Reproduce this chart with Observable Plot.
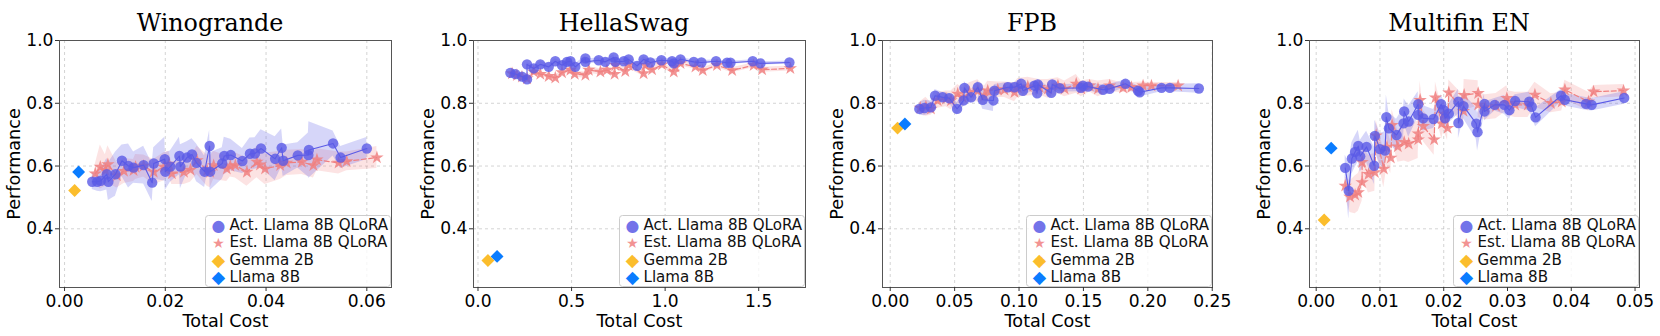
<!DOCTYPE html>
<html><head><meta charset="utf-8">
<script src="https://cdn.jsdelivr.net/npm/d3@7"></script>
<script src="https://cdn.jsdelivr.net/npm/@observablehq/plot@0.6"></script>
<style>
html,body{margin:0;padding:0;background:#fff;}
#fig{position:relative;width:1660px;height:336px;overflow:hidden;font-family:"DejaVu Sans",sans-serif;}
.ttl{position:absolute;width:300px;text-align:center;font-family:"DejaVu Serif",serif;color:#000;white-space:nowrap;z-index:2;}
</style>
</head><body><div id="fig"></div>
<script>
// ---------- data ----------
const titles = ["Winogrande", "HellaSwag", "FPB", "Multifin EN"];
const legendLabels = ["Act. Llama 8B QLoRA", "Est. Llama 8B QLoRA", "Gemma 2B", "Llama 8B"];
const yTicks = [0.4, 0.6, 0.8, 1.0];

// Winogrande
const winoActX = [0.0055,0.0065,0.0072,0.0084,0.0087,0.0101,0.0114,0.0127,0.0137,0.0157,0.0174,0.0177,0.0199,0.0200,0.0210,0.0228,0.0230,0.0243,0.0253,0.0262,0.0278,0.0288,0.0289,0.0313,0.0317,0.0330,0.0353,0.0368,0.0378,0.0390,0.0418,0.0431,0.0434,0.0463,0.0484,0.0485,0.0533,0.0548,0.0600];
const winoActY = [0.550,0.550,0.553,0.574,0.550,0.574,0.617,0.600,0.595,0.603,0.547,0.608,0.622,0.582,0.598,0.632,0.598,0.627,0.637,0.610,0.582,0.664,0.582,0.608,0.632,0.635,0.616,0.639,0.640,0.656,0.623,0.658,0.617,0.634,0.635,0.651,0.672,0.627,0.656];
const winoActErr = [0.025,0.03,0.035,0.05,0.06,0.07,0.05,0.07,0.05,0.06,0.06,0.05,0.07,0.06,0.05,0.06,0.07,0.05,0.05,0.06,0.05,0.05,0.06,0.05,0.06,0.05,0.04,0.05,0.05,0.06,0.07,0.06,0.05,0.04,0.07,0.09,0.04,0.035,0.035];
const winoEstX = [0.0061,0.0071,0.0081,0.0086,0.0104,0.0118,0.0137,0.0141,0.0157,0.0177,0.0197,0.0207,0.0213,0.0237,0.0250,0.0263,0.0283,0.0289,0.0296,0.0322,0.0329,0.0339,0.0362,0.0382,0.0388,0.0398,0.0428,0.0441,0.0471,0.0494,0.0501,0.0544,0.0560,0.0620];
const winoEstY = [0.576,0.597,0.586,0.605,0.570,0.584,0.586,0.597,0.600,0.581,0.597,0.607,0.576,0.581,0.588,0.618,0.586,0.581,0.602,0.591,0.600,0.602,0.581,0.613,0.604,0.591,0.602,0.610,0.613,0.602,0.620,0.610,0.615,0.627];
const winoEstErr = [0.03,0.07,0.05,0.06,0.04,0.04,0.035,0.04,0.035,0.04,0.045,0.04,0.035,0.04,0.04,0.045,0.05,0.05,0.045,0.04,0.035,0.04,0.045,0.05,0.05,0.05,0.045,0.04,0.04,0.04,0.035,0.035,0.03,0.035];
const winoGemma = [0.0020, 0.522];
const winoLlama = [0.0028, 0.581];

// HellaSwag
const hellaActX = [0.173,0.200,0.235,0.262,0.262,0.298,0.333,0.378,0.413,0.449,0.476,0.494,0.520,0.574,0.574,0.645,0.680,0.725,0.734,0.779,0.805,0.850,0.885,0.921,0.980,1.037,1.046,1.082,1.153,1.194,1.272,1.331,1.349,1.468,1.509,1.664];
const hellaActY = [0.897,0.893,0.885,0.876,0.924,0.911,0.924,0.916,0.934,0.921,0.932,0.934,0.916,0.943,0.932,0.937,0.932,0.946,0.932,0.934,0.940,0.919,0.940,0.930,0.937,0.934,0.927,0.940,0.932,0.930,0.934,0.929,0.929,0.934,0.927,0.930];
const hellaActErr = [0.006,0.006,0.008,0.008,0.006,0.008,0.010,0.010,0.008,0.010,0.008,0.008,0.010,0.008,0.008,0.008,0.008,0.008,0.008,0.008,0.008,0.010,0.008,0.008,0.008,0.008,0.008,0.006,0.006,0.006,0.005,0.005,0.005,0.005,0.005,0.005];
const hellaEstX = [0.182,0.208,0.235,0.262,0.298,0.333,0.378,0.413,0.449,0.494,0.517,0.574,0.592,0.654,0.689,0.730,0.734,0.787,0.805,0.885,0.894,0.930,0.983,1.046,1.055,1.082,1.162,1.201,1.277,1.358,1.473,1.518,1.669];
const hellaEstY = [0.895,0.889,0.884,0.879,0.900,0.893,0.886,0.881,0.898,0.906,0.893,0.890,0.906,0.900,0.906,0.893,0.921,0.902,0.921,0.895,0.921,0.907,0.923,0.900,0.916,0.927,0.916,0.905,0.921,0.905,0.921,0.907,0.911];
const hellaEstErr = [0.006,0.006,0.006,0.006,0.008,0.008,0.008,0.008,0.008,0.010,0.010,0.010,0.010,0.010,0.010,0.010,0.010,0.010,0.010,0.010,0.010,0.010,0.008,0.008,0.008,0.008,0.008,0.008,0.008,0.008,0.008,0.008,0.008];
const hellaGemma = [0.053, 0.299];
const hellaLlama = [0.102, 0.312];

// FPB
const fpbActX = [0.0226,0.0265,0.0316,0.0348,0.0407,0.0459,0.0519,0.0570,0.0576,0.0628,0.0680,0.0718,0.0801,0.0809,0.0913,0.0965,0.1017,0.1030,0.1120,0.1141,0.1146,0.1250,0.1258,0.1315,0.1480,0.1496,0.1535,0.1652,0.1704,0.1826,0.1924,0.1937,0.2106,0.2171,0.2396];
const fpbActY = [0.782,0.785,0.787,0.824,0.819,0.816,0.782,0.809,0.849,0.819,0.851,0.811,0.809,0.840,0.851,0.851,0.862,0.840,0.856,0.832,0.860,0.833,0.860,0.848,0.849,0.856,0.853,0.843,0.846,0.862,0.840,0.835,0.849,0.849,0.847];
const fpbActErr = [0.02,0.025,0.02,0.02,0.015,0.015,0.02,0.02,0.02,0.02,0.02,0.03,0.035,0.02,0.015,0.015,0.015,0.015,0.015,0.02,0.015,0.015,0.015,0.012,0.012,0.012,0.012,0.015,0.015,0.012,0.015,0.015,0.012,0.012,0.015];
const fpbEstX = [0.0233,0.0277,0.0316,0.0368,0.0433,0.0472,0.0524,0.0563,0.0615,0.0680,0.0731,0.0757,0.0835,0.0887,0.0965,0.0991,0.1068,0.1159,0.1224,0.1302,0.1354,0.1444,0.1483,0.1548,0.1613,0.1704,0.1808,0.1872,0.1963,0.2028,0.2235];
const fpbEstY = [0.785,0.789,0.782,0.809,0.814,0.809,0.830,0.819,0.835,0.840,0.824,0.840,0.843,0.843,0.835,0.849,0.853,0.851,0.846,0.856,0.846,0.862,0.846,0.856,0.846,0.856,0.849,0.851,0.856,0.856,0.856];
const fpbEstErr = [0.02,0.03,0.02,0.025,0.025,0.03,0.03,0.03,0.03,0.035,0.03,0.03,0.025,0.025,0.03,0.03,0.03,0.025,0.03,0.025,0.025,0.03,0.025,0.02,0.025,0.02,0.015,0.015,0.012,0.01,0.01];
const fpbGemma = [0.0057, 0.721];
const fpbLlama = [0.0114, 0.734];

// Multifin EN
const mfActX = [0.00455,0.0051,0.0056,0.0061,0.0066,0.0069,0.0079,0.0091,0.0092,0.0100,0.0108,0.0110,0.0114,0.0126,0.0137,0.0138,0.0145,0.0160,0.0160,0.0168,0.0184,0.0196,0.0200,0.0202,0.0208,0.0223,0.0223,0.0231,0.0251,0.0253,0.0264,0.0264,0.0280,0.0295,0.0303,0.0312,0.0334,0.0338,0.0344,0.0384,0.0390,0.0423,0.0432,0.0483];
const mfActY = [0.594,0.521,0.624,0.645,0.664,0.631,0.661,0.601,0.696,0.654,0.649,0.756,0.720,0.699,0.736,0.774,0.742,0.797,0.763,0.752,0.750,0.797,0.778,0.752,0.767,0.805,0.737,0.791,0.735,0.708,0.798,0.774,0.795,0.795,0.778,0.807,0.805,0.789,0.755,0.824,0.811,0.798,0.795,0.817];
const mfActErr = [0.04,0.09,0.05,0.05,0.05,0.05,0.05,0.06,0.05,0.05,0.06,0.07,0.05,0.05,0.05,0.04,0.05,0.04,0.04,0.04,0.03,0.03,0.03,0.03,0.03,0.04,0.05,0.04,0.05,0.06,0.03,0.03,0.02,0.03,0.03,0.02,0.03,0.03,0.03,0.02,0.02,0.02,0.02,0.02];
const mfEstX = [0.00455,0.0053,0.0061,0.0066,0.0072,0.0072,0.0082,0.0092,0.0094,0.0106,0.0111,0.0117,0.0119,0.0128,0.0138,0.0145,0.0160,0.0160,0.0163,0.0168,0.0185,0.0187,0.0197,0.0200,0.0206,0.0208,0.0231,0.0232,0.0254,0.0254,0.0265,0.0282,0.0299,0.0301,0.0312,0.0332,0.0343,0.0368,0.0385,0.0390,0.0427,0.0435,0.0482];
const mfEstY = [0.537,0.502,0.508,0.516,0.548,0.612,0.574,0.580,0.697,0.591,0.661,0.626,0.730,0.662,0.676,0.671,0.684,0.703,0.810,0.727,0.684,0.818,0.735,0.765,0.721,0.834,0.775,0.826,0.832,0.795,0.787,0.791,0.816,0.800,0.795,0.795,0.827,0.800,0.805,0.843,0.805,0.837,0.840];
const mfEstErr = [0.03,0.05,0.06,0.06,0.06,0.05,0.06,0.06,0.05,0.06,0.06,0.05,0.05,0.05,0.06,0.06,0.06,0.06,0.06,0.05,0.05,0.05,0.05,0.05,0.04,0.04,0.05,0.05,0.04,0.04,0.04,0.04,0.04,0.04,0.04,0.04,0.04,0.03,0.03,0.03,0.03,0.02,0.02];
const mfGemma = [0.00125, 0.428];
const mfLlama = [0.00235, 0.657];

// x-axis ticks per panel
const winoTicks = [0, 0.02, 0.04, 0.06];
const hellaTicks = [0, 0.5, 1.0, 1.5];
const fpbTicks = [0, 0.05, 0.10, 0.15, 0.20, 0.25];
const mfTicks = [0, 0.01, 0.02, 0.03, 0.04, 0.05];

// ---------- styling / layout ----------
const ACT = "#5a5ae6", EST = "#f08080", GEMMA = "#fbbd2c", LLAMA = "#0a7cff";
const W = 415, H = 336, mT = 40, mB = 49;
const SANS = '"DejaVu Sans", sans-serif', SERIF = '"DejaVu Serif", serif';

// font sizes fitted to the widths of the reference texts
const ctx = document.createElement("canvas").getContext("2d");
function fit(text, family, target) {
  ctx.font = "100px " + family;
  return Math.round(1000 * target / ctx.measureText(text).width) / 10;
}
const tickFS = fit("0.00", SANS, 38);
const labelFS = fit("Total Cost", SANS, 86);
const legendFS = fit("Act. Llama 8B QLoRA", SANS, 159);
const titleFS = fit("Winogrande", SERIF, 147);

const panels = [
  {left: 0,    mL: 59, mR: 24, dom: [-0.001, 0.0649],  ticks: winoTicks,  fmt: ".2f", actX: winoActX, actY: winoActY, actE: winoActErr, estX: winoEstX, estY: winoEstY, estE: winoEstErr, gemma: winoGemma, llama: winoLlama},
  {left: 415,  mL: 58, mR: 25, dom: [-0.024, 1.75],    ticks: hellaTicks, fmt: ".1f", actX: hellaActX, actY: hellaActY, actE: hellaActErr, estX: hellaEstX, estY: hellaEstY, estE: hellaEstErr, gemma: hellaGemma, llama: hellaLlama},
  {left: 830,  mL: 52, mR: 33, dom: [-0.006, 0.2502],  ticks: fpbTicks,   fmt: ".2f", actX: fpbActX, actY: fpbActY, actE: fpbActErr, estX: fpbEstX, estY: fpbEstY, estE: fpbEstErr, gemma: fpbGemma, llama: fpbLlama},
  {left: 1245, mL: 64, mR: 21, dom: [-0.00105, 0.0507], ticks: mfTicks,   fmt: ".2f", actX: mfActX, actY: mfActY, actE: mfActErr, estX: mfEstX, estY: mfEstY, estE: mfEstErr, gemma: mfGemma, llama: mfLlama}
];

function series(xs, ys, es) {
  return xs.map((x, i) => ({x, y: ys[i], lo: ys[i] - es[i], hi: ys[i] + es[i]}));
}

const fig = document.getElementById("fig");
const glyphs = ["●", "★", "◆", "◆"];
const glyphColors = [ACT, EST, GEMMA, LLAMA];
const glyphScale = [1.05, 0.95, 1.15, 1.15];

panels.forEach((p, k) => {
  const act = series(p.actX, p.actY, p.actE);
  const est = series(p.estX, p.estY, p.estE);
  const fw = W - p.mL - p.mR, fh = H - mT - mB;
  const legendMarks = [];
  legendLabels.forEach((lab, i) => {
    const dy = -62 + i * 17.1;
    legendMarks.push(Plot.text([glyphs[i]], {text: d => d, frameAnchor: "bottom-right", textAnchor: "middle", lineAnchor: "middle", dx: -173, dy: dy + 0.5, fill: glyphColors[i], fillOpacity: i < 2 ? 0.85 : 1, fontSize: legendFS * glyphScale[i], fontFamily: SANS}));
    legendMarks.push(Plot.text([lab], {text: d => d, frameAnchor: "bottom-right", textAnchor: "start", lineAnchor: "middle", dx: -162, dy, fontSize: legendFS, fontFamily: SANS, fill: "#111"}));
  });
  const svg = Plot.plot({
    width: W, height: H,
    marginLeft: p.mL, marginRight: p.mR, marginTop: mT, marginBottom: mB,
    style: {fontFamily: SANS, fontSize: tickFS + "px", background: "transparent", overflow: "visible", color: "#000"},
    x: {domain: p.dom},
    y: {domain: [0.213, 1.0]},
    marks: [
      Plot.gridX({ticks: p.ticks, stroke: "#b8b8b8", strokeOpacity: 0.6, strokeDasharray: "3,3"}),
      Plot.gridY({ticks: yTicks, stroke: "#b8b8b8", strokeOpacity: 0.6, strokeDasharray: "3,3"}),
      Plot.areaY(est, {x: "x", y1: "lo", y2: "hi", fill: EST, fillOpacity: 0.22}),
      Plot.areaY(act, {x: "x", y1: "lo", y2: "hi", fill: ACT, fillOpacity: 0.25}),
      Plot.line(est, {x: "x", y: "y", stroke: EST, strokeWidth: 1.2, strokeDasharray: "5,2.5"}),
      Plot.dot(est, {x: "x", y: "y", symbol: "star", r: 4.2, fill: EST, fillOpacity: 0.85}),
      Plot.line(act, {x: "x", y: "y", stroke: ACT, strokeWidth: 1.1}),
      Plot.dot(act, {x: "x", y: "y", r: 5.2, fill: ACT, fillOpacity: 0.8}),
      Plot.dot([p.gemma], {x: d => d[0], y: d => d[1], symbol: "diamond2", r: 5.8, fill: GEMMA}),
      Plot.dot([p.llama], {x: d => d[0], y: d => d[1], symbol: "diamond2", r: 5.8, fill: LLAMA}),
      Plot.frame({stroke: "#555", strokeWidth: 1}),
      Plot.axisX({ticks: p.ticks, tickFormat: p.fmt, tickSize: 4, tickPadding: 3, fontSize: tickFS, fontFamily: SANS, label: null, stroke: "#333"}),
      Plot.axisY({ticks: yTicks, tickFormat: ".1f", tickSize: 4, tickPadding: 2, fontSize: tickFS, fontFamily: SANS, label: null, stroke: "#333"}),
      Plot.text(["Performance"], {text: d => d, frameAnchor: "left", textAnchor: "middle", lineAnchor: "middle", dx: -45, rotate: -90, fontSize: labelFS, fontFamily: SANS, fill: "#000"}),
      Plot.text(["Total Cost"], {text: d => d, frameAnchor: "bottom", textAnchor: "middle", lineAnchor: "middle", dy: 34, fontSize: labelFS, fontFamily: SANS, fill: "#000"}),
      Plot.frame({fill: "white", fillOpacity: 0.8, stroke: "#cccccc", rx: 3, insetLeft: fw - 186, insetTop: fh - 72, insetRight: 1, insetBottom: 1}),
      ...legendMarks
    ]
  });
  svg.style.position = "absolute";
  svg.style.left = p.left + "px";
  svg.style.top = "0px";
  fig.appendChild(svg);
  const t = document.createElement("div");
  t.className = "ttl";
  t.textContent = titles[k];
  t.style.fontSize = titleFS + "px";
  t.style.lineHeight = "30px";
  t.style.height = "30px";
  // baseline near y = 31
  t.style.top = (31 - 15 - 0.35 * titleFS) + "px";
  const cx = p.left + p.mL + fw / 2 - 15;
  t.style.left = (cx - 150) + "px";
  fig.appendChild(t);
});
</script>
</body></html>
